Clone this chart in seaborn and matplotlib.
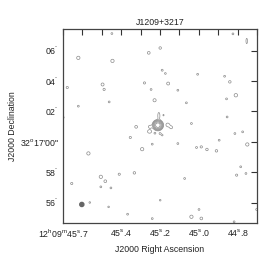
import numpy as np
import seaborn as sns
import matplotlib.pyplot as plt
from matplotlib.patches import Ellipse

sns.set_theme(style="white")
plt.rcParams['font.family'] = ['Liberation Sans', 'DejaVu Sans']
plt.rcParams['mathtext.default'] = 'regular'

title = "J1209+3217"

# RA in seconds of 12h09m, Dec in arcsec offset from +32d17'00"
ra_ticks = [45.7, 45.6, 45.5, 45.4, 45.3, 45.2, 45.1, 45.0, 44.9, 44.8, 44.7]
ra_labels = ["12$^h$09$^m$45$^s$.7", "", "", "45$^s$.4", "", "45$^s$.2",
             "", "45$^s$.0", "", "44$^s$.8", ""]
dec_ticks = [-4, -2, 0, 2, 4, 6]
dec_labels = ["56$^{''}$", "58$^{''}$", "32$^o$17'00\"", "02$^{''}$", "04$^{''}$", "06$^{''}$"]

# main source (core + faint bits around it) and the elongated blip top right
src_ra = [45.211, 45.206, 45.182, 45.251, 45.254, 45.160, 45.142, 45.226, 45.200, 45.188, 44.753]
src_dec = [1.10, 1.72, 1.76, 1.00, 0.68, 1.12, 0.95, 0.57, 0.55, 0.44, 6.64]
src_amp = [60, 1.6, 1.2, 1.5, 1.8, 1.6, 1.4, 1.3, 1.3, 1.2, 1.6]
src_sx = [0.13, 0.07, 0.06, 0.12, 0.12, 0.12, 0.10, 0.08, 0.08, 0.07, 0.05]
src_sy = [0.13, 0.22, 0.08, 0.10, 0.10, 0.12, 0.10, 0.08, 0.08, 0.07, 0.18]

# noise peaks scattered over the field
noise_ra = [45.448, 45.199, 44.824, 45.621, 45.258, 45.445, 45.189, 45.172,
            45.006, 44.867, 44.840, 45.280, 45.158, 45.496, 45.488, 45.678, 45.246,
            45.108, 44.809, 44.857, 45.462, 45.228, 45.064, 45.621, 45.700, 44.854,
            45.323, 45.038, 44.774, 44.814, 45.353, 45.240, 45.108, 44.895, 44.750,
            45.292, 45.012, 44.987, 44.958, 44.909, 45.569, 44.784, 44.805, 44.757,
            45.505, 45.482, 45.410, 45.332, 45.505, 45.453, 45.655, 45.073, 45.562,
            45.465, 45.199, 45.367, 45.240, 45.038, 44.999, 44.987, 44.818, 44.702]
noise_dec = [7.13, 6.18, 7.11, 5.53, 5.86, 5.33, 4.72, 4.50,
             4.45, 4.32, 3.95, 3.88, 3.84, 3.78, 3.45, 3.58, 3.45,
             3.40, 3.07, 2.83, 2.63, 2.74, 2.57, 2.35, 1.61, 1.64,
             0.99, 1.21, 0.66, 0.55, 0.29, -0.15, -0.11, 0.11, -0.17,
             -0.48, -0.37, -0.33, -0.50, -0.59, -0.76, -1.64, -2.19, -2.08,
             -2.30, -2.59, -2.13, -2.04, -2.96, -3.03, -2.74, -2.41, -3.99,
             -4.28, -3.84, -4.76, -5.05, -4.93, -4.45, -5.04, -5.26, -4.45]
noise_amp = [1.2, 1.4, 1.2, 1.8, 1.5, 1.8, 1.2, 1.15,
             1.2, 1.2, 1.4, 1.3, 1.6, 1.6, 1.3, 1.3, 1.2,
             1.2, 1.9, 1.2, 1.2, 1.7, 1.2, 1.2, 1.3, 1.2,
             1.5, 1.2, 1.2, 1.2, 1.3, 1.2, 1.2, 1.2, 1.8,
             1.8, 1.2, 1.3, 1.4, 1.4, 1.8, 1.2, 1.3, 1.2,
             1.8, 1.5, 1.3, 1.4, 1.2, 1.2, 1.3, 1.2, 1.15,
             1.15, 1.15, 1.2, 1.2, 1.8, 1.2, 1.5, 1.2, 1.2]
noise_sigma = 0.1

levels = [1, 2, 4, 8, 16, 32]

beam_ra, beam_dec, beam_size = 45.603, -4.12, 0.27

arcsec_per_s = 12.68  # 15 * cos(dec)

ra = np.linspace(44.7, 45.7, 700)
dec = np.linspace(-5.4, 7.5, 700)
RA, DEC = np.meshgrid(ra, dec)

img = np.zeros_like(RA)
for r0, d0, a, sx, sy in zip(src_ra, src_dec, src_amp, src_sx, src_sy):
    dx = (RA - r0) * arcsec_per_s
    dy = DEC - d0
    img += a * np.exp(-0.5 * ((dx / sx) ** 2 + (dy / sy) ** 2))
for r0, d0, a in zip(noise_ra, noise_dec, noise_amp):
    dx = (RA - r0) * arcsec_per_s
    dy = DEC - d0
    img += a * np.exp(-0.5 * (dx ** 2 + dy ** 2) / noise_sigma ** 2)

fig = plt.figure(figsize=(2.75, 2.63), dpi=100)
ax = fig.add_axes([63 / 275, 1 - 223 / 263, 194 / 275, 194 / 263])

ax.contour(RA, DEC, img, levels=levels, colors='#8a8a8a', linewidths=0.5)
ax.add_patch(Ellipse((beam_ra, beam_dec), beam_size / arcsec_per_s, beam_size,
                     facecolor='#666666', edgecolor='#666666'))

ax.set_xlim(45.7, 44.7)
ax.set_ylim(-5.34, 7.43)
ax.set_xticks(ra_ticks)
ax.set_xticklabels(ra_labels)
ax.set_yticks(dec_ticks)
ax.set_yticklabels(dec_labels)
ax.tick_params(direction='in', length=4, width=0.8, top=True, right=True,
               labelsize=6.3, pad=3, colors='#333333', labelcolor='#222222')
for s in ax.spines.values():
    s.set_color('#444444')
    s.set_linewidth(0.9)

ax.set_title(title, fontsize=6.3, color='#222222', pad=3)
ax.set_xlabel("J2000 Right Ascension", fontsize=6.3, color='#222222', labelpad=4)
ax.set_ylabel("J2000 Declination", fontsize=6.3, color='#222222', labelpad=2)

fig.savefig("out.png", dpi=100)
